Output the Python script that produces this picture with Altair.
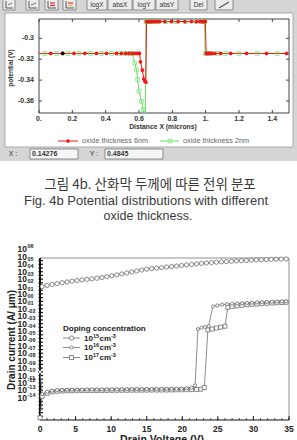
import altair as alt
import pandas as pd

# ---------------- potential along the channel ----------------
red_x = [0.0, 0.07, 0.14, 0.21, 0.275, 0.345, 0.405, 0.465, 0.495, 0.52, 0.54, 0.56, 0.575, 0.585, 0.595, 0.603,
         0.609, 0.62, 0.629, 0.636, 0.641,
         0.645, 0.652, 0.659, 0.666, 0.673, 0.68, 0.69, 0.70, 0.712, 0.725, 0.755, 0.795, 0.835, 0.875, 0.915,
         0.945, 0.965, 0.977, 0.986, 0.993, 0.998,
         1.003, 1.008, 1.014, 1.02, 1.028, 1.04, 1.055, 1.09, 1.15, 1.245, 1.365, 1.485, 1.5]
red_y = [-0.3145, -0.3145, -0.3145, -0.3145, -0.3145, -0.3145, -0.3145, -0.3145, -0.3145, -0.3145, -0.3145,
         -0.3145, -0.3145, -0.3145, -0.3145, -0.3145,
         -0.3225, -0.3305, -0.339, -0.3412, -0.342,
         -0.284, -0.284, -0.284, -0.284, -0.284, -0.284, -0.284, -0.284, -0.284, -0.284, -0.284, -0.284, -0.284,
         -0.284, -0.284, -0.284, -0.284, -0.284, -0.284, -0.284, -0.284,
         -0.3145, -0.3145, -0.3145, -0.3145, -0.3145, -0.3145, -0.3145, -0.3145, -0.3145, -0.3145, -0.3145,
         -0.3145, -0.3145]

green_x = [0.0, 0.035, 0.105, 0.175, 0.24, 0.31, 0.375, 0.435, 0.48, 0.515, 0.54, 0.558,
           0.575, 0.585, 0.592, 0.6, 0.615, 0.625, 0.633, 0.638,
           0.642, 0.648, 0.66, 0.68, 0.71, 0.76, 0.82, 0.88, 0.94, 0.98, 0.994,
           0.997, 1.01, 1.03, 1.07, 1.12, 1.2, 1.31, 1.43, 1.5]
green_y = [-0.3145, -0.3145, -0.3145, -0.3145, -0.3145, -0.3145, -0.3145, -0.3145, -0.3145, -0.3145, -0.3145,
           -0.3145,
           -0.3237, -0.3303, -0.3395, -0.3507, -0.3603, -0.3683, -0.376, -0.38,
           -0.284, -0.284, -0.284, -0.284, -0.284, -0.284, -0.284, -0.284, -0.284, -0.284, -0.284,
           -0.3145, -0.3145, -0.3145, -0.3145, -0.3145, -0.3145, -0.3145, -0.3145, -0.3145]

picked_x = [0.14276]
picked_y = [-0.3145]

pot_xticks = [0.0, 0.2, 0.4, 0.6, 0.8, 1.0, 1.2, 1.4]
pot_xlabels = ["0.", "0.2", "0.4", "0.6", "0.8", "1.", "1.2", "1.4"]
pot_yticks = [-0.30, -0.32, -0.34, -0.36]
pot_ylabels = ["-0.3", "-0.32", "-0.34", "-0.36"]

# ---------------- drain current vs drain voltage ----------------
# current is given as the exponent of the axis (decade index)
vd_15 = [0.3, 1.0, 1.7, 2.4, 3.1, 3.8, 4.5, 5.2, 5.9, 6.6, 7.3, 8.0, 8.7, 9.4, 10.1, 10.8, 11.5, 12.2, 12.9,
         13.6, 14.3, 15.0, 15.7, 16.4, 17.1, 17.8, 18.5, 19.2, 19.9, 20.6, 21.3, 22.0, 22.7, 23.4, 24.1, 24.8,
         25.5, 26.2, 26.9, 27.6, 28.3, 29.0, 29.7, 30.4, 31.1, 31.8, 32.5, 33.2, 33.9, 34.6]
id_15 = [1.00, 1.15, 1.28, 1.40, 1.52, 1.62, 1.72, 1.81, 1.90, 1.97, 2.04, 2.12, 2.22, 2.33, 2.46, 2.58, 2.70,
         2.83, 2.97, 3.10, 3.22, 3.34, 3.42, 3.49, 3.56, 3.63, 3.70, 3.77, 3.84, 3.91, 3.98, 4.05, 4.12, 4.18,
         4.23, 4.28, 4.33, 4.37, 4.41, 4.45, 4.49, 4.52, 4.56, 4.59, 4.62, 4.64, 4.66, 4.68, 4.70, 4.72]

vd_16 = [0.0, 0.3, 1.0, 1.7, 2.4, 3.1, 3.8, 4.5, 5.2, 5.9, 6.6, 7.3, 8.0, 8.7, 9.4, 10.1, 10.8, 11.5, 12.2,
         12.9, 13.6, 14.3, 15.0, 15.7, 16.4, 17.1, 17.8, 18.5, 19.2, 19.9, 20.6, 21.3,
         21.8, 22.2, 22.7, 23.2, 23.7,
         24.3, 24.9, 25.6, 26.3, 27.0, 27.7, 28.4, 29.1, 29.8, 30.5, 31.2, 31.9, 32.6, 33.3, 34.0, 34.6]
id_16 = [-10.5, -13.5, -13.2, -13.05, -12.98, -12.95, -12.93, -12.92, -12.9, -12.9, -12.88, -12.88, -12.87,
         -12.87, -12.86, -12.86, -12.85, -12.85, -12.84, -12.84, -12.83, -12.83, -12.82, -12.82, -12.81, -12.8,
         -12.8, -12.79, -12.78, -12.76, -12.72, -12.62,
         -12.35, -4.75, -4.55, -4.45, -4.35,
         -1.7, -1.55, -1.45, -1.38, -1.32, -1.28, -1.24, -1.2, -1.17, -1.14, -1.11, -1.08, -1.05, -1.02, -1.0,
         -0.98]

vd_17 = [0.0, 0.3, 1.0, 1.7, 2.4, 3.1, 3.8, 4.5, 5.2, 5.9, 6.6, 7.3, 8.0, 8.7, 9.4, 10.1, 10.8, 11.5, 12.2,
         12.9, 13.6, 14.3, 15.0, 15.7, 16.4, 17.1, 17.8, 18.5, 19.2, 19.9, 20.6, 21.3, 22.0,
         22.6, 23.1, 23.6, 24.2, 24.8, 25.4, 26.0,
         26.4, 27.0, 27.7, 28.4, 29.1, 29.8, 30.5, 31.2, 31.9, 32.6, 33.3, 34.0, 34.6]
id_17 = [-16.7, -13.8, -13.4, -13.2, -13.12, -13.08, -13.06, -13.05, -13.04, -13.03, -13.03, -13.02, -13.02,
         -13.01, -13.01, -13.0, -13.0, -12.99, -12.99, -12.98, -12.98, -12.97, -12.97, -12.96, -12.96, -12.95,
         -12.95, -12.94, -12.93, -12.92, -12.91, -12.9, -12.88,
         -12.85, -12.62, -4.85, -4.72, -4.6, -4.48, -4.35,
         -1.8, -1.68, -1.6, -1.52, -1.46, -1.4, -1.35, -1.3, -1.26, -1.22, -1.18, -1.15, -1.12]

vd_ticks = [0, 5, 10, 15, 20, 25, 30, 35]
id_ticks = [6, 5, 4, 3, 2, 1, 0, -1, -2, -3, -4, -5, -6, -7, -8, -9, -10, -11, -12, -13, -14]
id_exps = ["06", "05", "04", "03", "02", "01", "00", "01", "-02", "-03", "-04", "-05", "-06", "-07", "-08",
           "-09", "-10", "-11", "-12", "-13", "-14"]

for a, b in [(red_x, red_y), (green_x, green_y), (vd_15, id_15), (vd_16, id_16), (vd_17, id_17)]:
    assert len(a) == len(b), (len(a), len(b))

SANS = "Liberation Sans"
dummy = pd.DataFrame({"a": [0]})


def frame(xs, ys):
    return pd.DataFrame({"x": xs, "y": ys, "i": list(range(len(xs)))})


def vrect(x0, x1, y0, y1, **kw):
    return alt.Chart(dummy).mark_rect(**kw).encode(
        x=alt.value(x0), x2=alt.value(x1), y=alt.value(y0), y2=alt.value(y1))


def vline(x0, y0, x1, y1, **kw):
    return alt.Chart(dummy).mark_rule(**kw).encode(
        x=alt.value(x0), y=alt.value(y0), x2=alt.value(x1), y2=alt.value(y1))


def vtext(s, x, y, **kw):
    kw.setdefault("font", SANS)
    return alt.Chart(dummy).mark_text(text=s, **kw).encode(x=alt.value(x), y=alt.value(y))


# ---------------- window chrome around the potential plot ----------------
chrome = [vrect(0, 297, 0, 161, fill="#d5d5d5")]
icon_buttons = [(3, 15), (26, 39), (45, 58), (63, 76)]
for k, (x0, x1) in enumerate(icon_buttons):
    chrome.append(vrect(x0, x1, -2, 10, fill="#ececec", stroke="#7a7a7a", strokeWidth=0.8))
    chrome.append(vline(x0 + 3, 1, x0 + 3, 8, color="#333", strokeWidth=0.8))
    chrome.append(vline(x0 + 3, 8, x1 - 2, 8, color="#333", strokeWidth=0.8))
    if k >= 2:
        chrome.append(vline(x0 + 5, 3, x1 - 3, 3, color="#e03030", strokeWidth=1.2))
        chrome.append(vline(x0 + 5, 5.5, x1 - 3, 5.5, color="#e0c030" if k == 3 else "#e03030", strokeWidth=1.2))
    else:
        chrome.append(vline(x0 + 5, 5, x1 - 3, 3, color="#555", strokeWidth=0.8))
text_buttons = [("logX", 87, 107), ("absX", 108, 132), ("logY", 133, 155), ("absY", 156, 178), ("Del", 190, 207)]
for lab, x0, x1 in text_buttons:
    chrome.append(vrect(x0, x1, -2, 10, fill="#ececec", stroke="#7a7a7a", strokeWidth=0.8))
    chrome.append(vtext(lab, (x0 + x1) / 2, 5, fontSize=6.5, color="#333"))
chrome.append(vrect(215, 233, -2, 10, fill="#ececec", stroke="#7a7a7a", strokeWidth=0.8))
chrome.append(vline(219, 8, 229, 2, color="#555", strokeWidth=1.2))
chrome.append(vrect(5, 293, 13, 147, fill="white", stroke="#9a9a9a", strokeWidth=0.8))
chrome += [
    vtext("X :", 13, 154, fontSize=7, color="#333"),
    vrect(30, 78, 149, 159, fill="#f6f6f6", stroke="#666", strokeWidth=0.7),
    vtext("0.14276", 32, 154, fontSize=7, fontWeight="bold", color="#333", align="left"),
    vtext("Y :", 94, 154, fontSize=7, color="#333"),
    vrect(105, 163, 149, 159, fill="#f6f6f6", stroke="#666", strokeWidth=0.7),
    vtext("0.4845", 107, 154, fontSize=7, fontWeight="bold", color="#333", align="left"),
]

# ---------------- potential plot ----------------
PX = alt.Scale(domain=[0, 1.5], range=[39, 289], nice=False, zero=False, clamp=True)
PY = alt.Scale(domain=[-0.3715, -0.2815], range=[113, 19], nice=False, zero=False, clamp=True)


def px(f="x"):
    return alt.X(f"{f}:Q", scale=PX, axis=None)


def py(f="y"):
    return alt.Y(f"{f}:Q", scale=PY, axis=None)


RED = "#f01818"
GREEN = "#66e066"
pxt = pd.DataFrame({"v": pot_xticks, "t": pot_xlabels})
pyt = pd.DataFrame({"v": pot_yticks, "t": pot_ylabels})
box = pd.DataFrame({"x": [0.0], "x2": [1.5], "y": [-0.3715], "y2": [-0.2815]})
red_df = frame(red_x, red_y)
green_df = frame(green_x, green_y)

pot = alt.layer(
    alt.Chart(box).mark_rect(fillOpacity=0, stroke="#444", strokeWidth=1).encode(
        x=px(), x2="x2:Q", y=py(), y2="y2:Q"),
    alt.Chart(pxt).mark_rule(color="#444").encode(x=px("v"), y=alt.value(113), y2=alt.value(110)),
    alt.Chart(pxt).mark_rule(color="#444").encode(x=px("v"), y=alt.value(19), y2=alt.value(22)),
    alt.Chart(pyt).mark_rule(color="#444").encode(y=py("v"), x=alt.value(39), x2=alt.value(42)),
    alt.Chart(pyt).mark_rule(color="#444").encode(y=py("v"), x=alt.value(289), x2=alt.value(286)),
    alt.Chart(pxt).mark_text(font=SANS, fontSize=7, fontWeight="bold", color="#333").encode(
        x=px("v"), y=alt.value(118.5), text="t:N"),
    alt.Chart(pyt).mark_text(font=SANS, fontSize=7, fontWeight="bold", color="#333", align="right").encode(
        y=py("v"), x=alt.value(34), text="t:N"),
    alt.Chart(green_df).mark_line(color=GREEN, strokeWidth=1).encode(x=px(), y=py(), order="i:Q"),
    alt.Chart(red_df).mark_line(color=RED, strokeWidth=1).encode(x=px(), y=py(), order="i:Q"),
    alt.Chart(green_df).transform_filter("datum.x > 0 && datum.x < 1.5 && datum.y > -0.371").mark_point(
        shape="square", size=14, color=GREEN, strokeWidth=1).encode(x=px(), y=py()),
    alt.Chart(red_df).transform_filter("datum.x > 0 && datum.x < 1.5").mark_point(
        shape="circle", size=14, filled=True, color=RED, opacity=1).encode(x=px(), y=py()),
    alt.Chart(frame(picked_x, picked_y)).mark_point(
        shape="circle", size=14, filled=True, color="black", opacity=1).encode(x=px(), y=py()),
)

pot_text = [
    vtext("potential (V)", 11, 68, fontSize=6.5, fontWeight="bold", color="#333", angle=270),
    vtext("Distance X (microns)", 163, 126.5, fontSize=6.8, fontWeight="bold", color="#333"),
    vline(58, 141, 78, 141, color=RED, strokeWidth=1),
    alt.Chart(dummy).mark_point(shape="circle", size=14, filled=True, color=RED, opacity=1).encode(
        x=alt.value(68), y=alt.value(141)),
    vtext("oxide thickness 6nm", 82, 141, fontSize=7.3, color="#666", align="left"),
    vline(160, 141, 179, 141, color=GREEN, strokeWidth=1),
    alt.Chart(dummy).mark_point(shape="square", size=14, color=GREEN, strokeWidth=1).encode(
        x=alt.value(170), y=alt.value(141)),
    vtext("oxide thickness 2nm", 183, 141, fontSize=7.3, color="#666", align="left"),
]

captions = [
    vtext("그림 4b. 산화막 두께에 따른 전위 분포", 150, 184.5, fontSize=13.5, color="#3a3a3a",
          font="Noto Sans CJK KR"),
    vtext("Fig. 4b Potential distributions with different", 146, 200.5, fontSize=13, color="#3a3a3a"),
    vtext("oxide thickness.", 148, 215.5, fontSize=12.5, color="#3a3a3a"),
]

# ---------------- drain current plot ----------------
BX = alt.Scale(domain=[0, 35], range=[40, 289], nice=False, zero=False)
BY = alt.Scale(domain=[-17, 4.85], range=[420, 258], nice=False, zero=False)


def bx(f="x"):
    return alt.X(f"{f}:Q", scale=BX, axis=None)


def by(f="y"):
    return alt.Y(f"{f}:Q", scale=BY, axis=None)


edges = pd.DataFrame({"x": [0.0], "x2": [35.0], "y": [-17.0], "y2": [4.85]})
bxt = pd.DataFrame({"v": vd_ticks, "t": [str(v) for v in vd_ticks]})
bxm = pd.DataFrame({"v": list(range(0, 36))})
byt = pd.DataFrame({"v": id_ticks, "t": id_exps})
bym = pd.DataFrame({"v": [k / 2 for k in range(-33, 10)]})
s15 = frame(vd_15, id_15)
s16 = frame(vd_16, id_16)
s17 = frame(vd_17, id_17)
LINE = "#707070"
MK = "#5a5a5a"

drain = alt.layer(
    alt.Chart(edges).mark_rule(color="#b4b4b4", strokeWidth=1.5).encode(x=bx(), x2="x2:Q", y=by("y2")),
    alt.Chart(edges).mark_rule(color="#b4b4b4", strokeWidth=1.5).encode(x=bx("x2"), y=by(), y2="y2:Q"),
    alt.Chart(bxm).mark_rule(color="#222", strokeWidth=0.8).encode(x=bx("v"), y=alt.value(420), y2=alt.value(418)),
    alt.Chart(bxt).mark_rule(color="#222", strokeWidth=1).encode(x=bx("v"), y=alt.value(420), y2=alt.value(416)),
    alt.Chart(bym).mark_rule(color="#111", strokeWidth=1.2).encode(y=by("v"), x=alt.value(38.5), x2=alt.value(43)),
    alt.Chart(edges).mark_rule(color="#111", strokeWidth=2).encode(x=bx(), y=by(), y2="y2:Q"),
    alt.Chart(edges).mark_rule(color="#111", strokeWidth=1.2).encode(x=bx(), x2="x2:Q", y=by()),
    alt.Chart(bxt).mark_text(font=SANS, fontSize=8.5, fontWeight="bold", color="#222").encode(
        x=bx("v"), y=alt.value(428.5), text="t:N"),
    alt.Chart(byt).mark_text(font=SANS, fontSize=8.5, fontWeight="bold", color="#222", align="right").encode(
        y=by("v"), x=alt.value(27), text=alt.value("10")),
    alt.Chart(byt).transform_filter("datum.v > -12 && datum.v < 6").mark_text(
        font=SANS, fontSize=5.5, fontWeight="bold", color="#222", align="left", dy=2).encode(
        y=by("v"), x=alt.value(27.5), text="t:N"),
    alt.Chart(byt).transform_filter("datum.v <= -12 || datum.v >= 6").mark_text(
        font=SANS, fontSize=5.5, fontWeight="bold", color="#222", align="left", dy=-3).encode(
        y=by("v"), x=alt.value(27.5), text="t:N"),
    alt.Chart(s17).mark_line(color=LINE, strokeWidth=0.8).encode(x=bx(), y=by(), order="i:Q"),
    alt.Chart(s16).mark_line(color=LINE, strokeWidth=0.8).encode(x=bx(), y=by(), order="i:Q"),
    alt.Chart(s15).mark_line(color=LINE, strokeWidth=0.8).encode(x=bx(), y=by(), order="i:Q"),
    alt.Chart(s17).mark_point(shape="square", size=16, filled=True, color="white", stroke=MK,
                              strokeWidth=0.7, opacity=1).encode(x=bx(), y=by()),
    alt.Chart(s16).mark_point(shape="circle", size=10, filled=True, color="white", stroke=MK,
                              strokeWidth=0.7, opacity=1).encode(x=bx(), y=by()),
    alt.Chart(s15).mark_point(shape="circle", size=18, filled=True, color="white", stroke=MK,
                              strokeWidth=0.7, opacity=1).encode(x=bx(), y=by()),
)

legend_rows = [(338, "circle", 18, "15"), (347.5, "circle", 10, "16"), (357.5, "square", 16, "17")]
drain_text = [
    vtext("Drain current (A/ \u03bcm)", 12, 340, fontSize=10, fontWeight="bold", color="#222", angle=270),
    vtext("Drain Voltage (V)", 162, 435, fontSize=10.5, fontWeight="bold", color="#222", baseline="top"),
    vtext("Doping concentration", 63, 329, fontSize=8, fontWeight="bold", color="#222", align="left"),
]
for yy, shp, sz, ex in legend_rows:
    drain_text += [
        vline(63, yy, 80, yy, color=LINE, strokeWidth=0.8),
        alt.Chart(dummy).mark_point(shape=shp, size=sz, filled=True, color="white", stroke=MK,
                                    strokeWidth=0.7, opacity=1).encode(x=alt.value(71.5), y=alt.value(yy)),
        vtext("10", 84, yy + 0.5, fontSize=8, fontWeight="bold", color="#222", align="left"),
        vtext(ex, 93, yy - 2.5, fontSize=5.5, fontWeight="bold", color="#222", align="left"),
        vtext("cm", 99.5, yy + 0.5, fontSize=8, fontWeight="bold", color="#222", align="left"),
        vtext("-3", 111, yy - 2.5, fontSize=5.5, fontWeight="bold", color="#222", align="left"),
    ]

chart = alt.layer(
    *chrome, pot, *pot_text, *captions, drain, *drain_text
).resolve_scale(
    x="independent", y="independent"
).properties(
    width=297, height=440, padding=0, autosize=alt.AutoSizeParams(type="none"), background="white"
).configure_view(strokeWidth=0)

chart.save("out.html", embed_options={"renderer": "svg", "actions": False})
